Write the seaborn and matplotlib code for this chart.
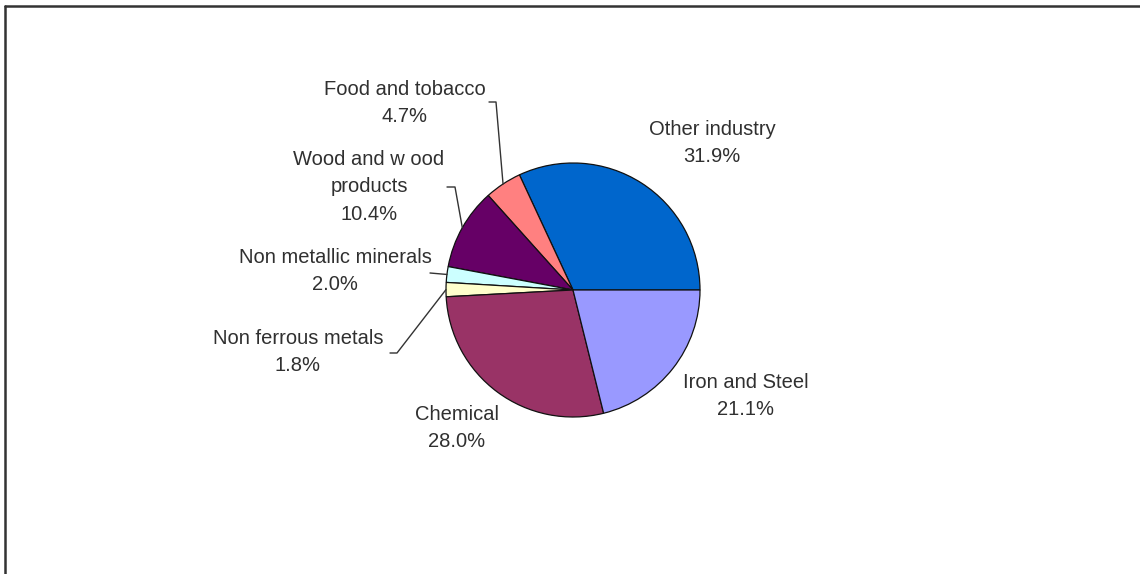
import numpy as np
import matplotlib
matplotlib.use("Agg")
import matplotlib.pyplot as plt
import seaborn as sns
from matplotlib.lines import Line2D

sns.set_theme(style="white")
plt.rcParams["font.family"] = ["Liberation Sans", "DejaVu Sans"]

# Industrial energy consumption by sector (shares, %)
sectors = ["Other industry", "Food and tobacco", "Wood and w ood\nproducts",
           "Non metallic minerals", "Non ferrous metals", "Chemical", "Iron and Steel"]
shares = [31.9, 4.7, 10.4, 2.0, 1.8, 28.0, 21.1]
colors = ["#0066CC", "#FF8080", "#660066", "#CCFFFF", "#FFFFCC", "#993366", "#9999FF"]

W, H = 1140, 574
fig = plt.figure(figsize=(W / 100, H / 100), dpi=100)
ax = fig.add_axes([0, 0, 1, 1])

cx, cy, r = 573, H - 290, 127
wedges, _ = ax.pie(shares, colors=colors, startangle=0, counterclock=True,
                   center=(cx, cy), radius=r, frame=True,
                   wedgeprops=dict(edgecolor="#111111", linewidth=0.9))
ax.set_xlim(0, W)
ax.set_ylim(0, H)
ax.set_aspect("equal")
ax.axis("off")

# label centres (x, y from top) for each sector
label_pos = [(712, 143), (405, 103), (369, 187), (335, 271), (298, 352),
             (457, 428), (746, 396)]
for name, val, (lx, ly) in zip(sectors, shares, label_pos):
    ax.text(lx, H - ly, f"{name}\n{val:.1f}%", ha="center", va="center",
            fontsize=14.5, color="#303030", linespacing=1.55)

# leader lines for the small outer-left slices: elbow point -> wedge edge
elbows = {1: [(489, 102), (496, 102)],
          2: [(447, 187), (455, 187)],
          3: [(430, 273)],
          4: [(390, 353), (397, 353)]}
for i, pts in elbows.items():
    w = wedges[i]
    mid = np.deg2rad((w.theta1 + w.theta2) / 2)
    ex, ey = cx + r * np.cos(mid), cy + r * np.sin(mid)
    xs = [p[0] for p in pts] + [ex]
    ys = [H - p[1] for p in pts] + [ey]
    ax.plot(xs, ys, color="#333333", linewidth=1.0)

# outer frame (left and top edges visible)
fig.add_artist(Line2D([5 / W, 5 / W], [0, 1 - 6 / H], transform=fig.transFigure,
                      color="#333333", linewidth=1.8))
fig.add_artist(Line2D([5 / W, 1], [1 - 6 / H, 1 - 6 / H], transform=fig.transFigure,
                      color="#333333", linewidth=1.8))

fig.savefig("out.png", dpi=100, facecolor="white")
